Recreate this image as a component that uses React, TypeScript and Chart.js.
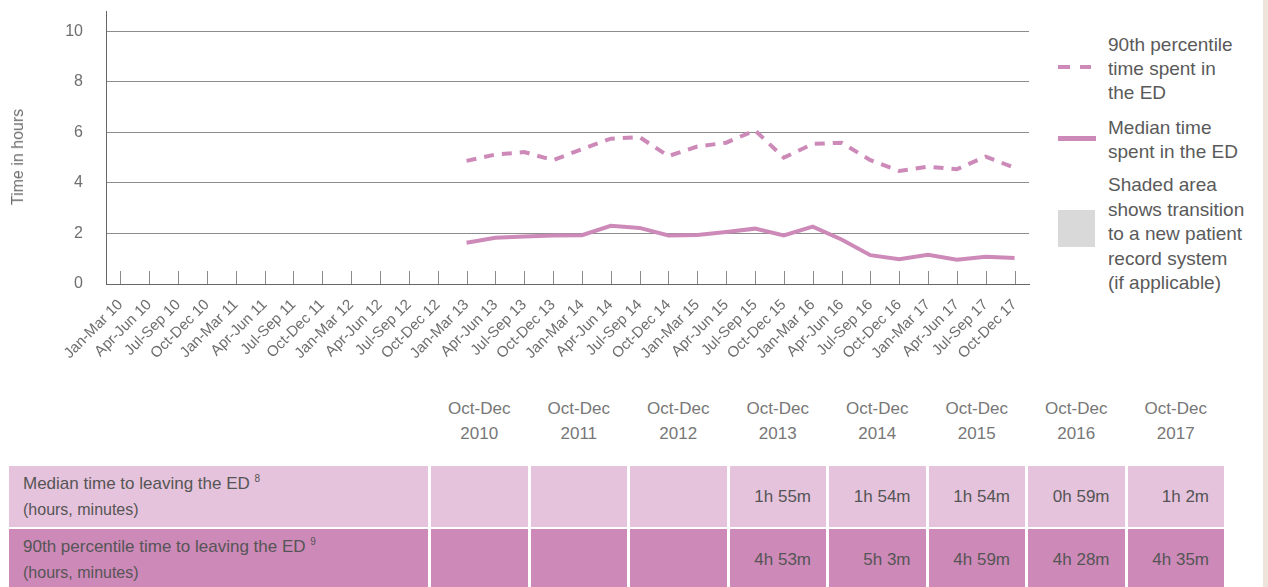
import React, { useEffect, useRef } from 'react';
import { Chart, registerables } from 'chart.js';

Chart.register(...registerables);

const categories = [
  'Jan-Mar 10', 'Apr-Jun 10', 'Jul-Sep 10', 'Oct-Dec 10',
  'Jan-Mar 11', 'Apr-Jun 11', 'Jul-Sep 11', 'Oct-Dec 11',
  'Jan-Mar 12', 'Apr-Jun 12', 'Jul-Sep 12', 'Oct-Dec 12',
  'Jan-Mar 13', 'Apr-Jun 13', 'Jul-Sep 13', 'Oct-Dec 13',
  'Jan-Mar 14', 'Apr-Jun 14', 'Jul-Sep 14', 'Oct-Dec 14',
  'Jan-Mar 15', 'Apr-Jun 15', 'Jul-Sep 15', 'Oct-Dec 15',
  'Jan-Mar 16', 'Apr-Jun 16', 'Jul-Sep 16', 'Oct-Dec 16',
  'Jan-Mar 17', 'Apr-Jun 17', 'Jul-Sep 17', 'Oct-Dec 17',
];

const medianHours = [
  null, null, null, null, null, null, null, null, null, null, null, null,
  1.63, 1.83, 1.88, 1.92, 1.93, 2.3, 2.22, 1.92,
  1.94, 2.06, 2.19, 1.92, 2.27, 1.76, 1.14, 0.98,
  1.16, 0.96, 1.08, 1.03,
];

const p90Hours = [
  null, null, null, null, null, null, null, null, null, null, null, null,
  4.87, 5.12, 5.22, 4.9, 5.33, 5.75, 5.81, 5.06,
  5.44, 5.59, 6.08, 5.0, 5.54, 5.59, 4.9, 4.47,
  4.64, 4.54, 5.04, 4.6,
];

const yTickValues = [0, 2, 4, 6, 8, 10];

const tableQuarters = ['Oct-Dec', 'Oct-Dec', 'Oct-Dec', 'Oct-Dec', 'Oct-Dec', 'Oct-Dec', 'Oct-Dec', 'Oct-Dec'];
const tableYears = ['2010', '2011', '2012', '2013', '2014', '2015', '2016', '2017'];
const medianTable = ['', '', '', '1h 55m', '1h 54m', '1h 54m', '0h 59m', '1h 2m'];
const p90Table = ['', '', '', '4h 53m', '5h 3m', '4h 59m', '4h 28m', '4h 35m'];

const LINE_COLOR = '#cd8ab9';
const FONT = '"Liberation Sans", Arial, sans-serif';
const TEXT = '#6e6e6e';

const innerTicks = {
  id: 'innerTicks',
  beforeDatasetsDraw(chart: any) {
    const xs = chart.scales.x;
    const { ctx, chartArea } = chart;
    ctx.save();
    ctx.strokeStyle = '#8a8a8a';
    ctx.lineWidth = 1;
    categories.forEach((_, i) => {
      const px = Math.round(xs.getPixelForValue(i)) + 0.5;
      ctx.beginPath();
      ctx.moveTo(px, chartArea.bottom - 13);
      ctx.lineTo(px, chartArea.bottom);
      ctx.stroke();
    });
    ctx.restore();
  },
};

function LineChart() {
  const ref = useRef<HTMLCanvasElement | null>(null);
  useEffect(() => {
    if (!ref.current) return;
    const chart = new Chart(ref.current, {
      type: 'line',
      data: {
        labels: categories,
        datasets: [
          {
            label: '90th percentile time spent in the ED',
            data: p90Hours,
            borderColor: LINE_COLOR,
            borderWidth: 4,
            borderDash: [10, 8],
            pointRadius: 0,
            tension: 0,
            fill: false,
          },
          {
            label: 'Median time spent in the ED',
            data: medianHours,
            borderColor: LINE_COLOR,
            borderWidth: 4,
            pointRadius: 0,
            tension: 0,
            fill: false,
          },
        ],
      },
      options: {
        animation: false,
        responsive: false,
        layout: { padding: { top: 11, right: 11, left: 0, bottom: 0 } },
        plugins: { legend: { display: false }, tooltip: { enabled: false } },
        scales: {
          x: {
            offset: true,
            grid: { display: false },
            border: { display: true, color: '#666', width: 1 },
            ticks: {
              autoSkip: false,
              minRotation: 45,
              maxRotation: 45,
              padding: 4,
              color: TEXT,
              font: { family: FONT, size: 15 },
            },
            afterFit: (s: any) => { s.height = 96; s.paddingLeft = 0; s.paddingRight = 0; },
          },
          y: {
            min: 0,
            max: 10.8,
            afterBuildTicks: (s: any) => { s.ticks = yTickValues.map((v) => ({ value: v })); },
            grid: {
              drawTicks: false,
              color: (c: any) => (c.tick && c.tick.value === 0 ? 'rgba(0,0,0,0)' : '#8c8c8c'),
            },
            border: { display: true, color: '#666', width: 1 },
            ticks: {
              padding: 23,
              color: TEXT,
              font: { family: FONT, size: 16 },
            },
            afterFit: (s: any) => { s.width = 106; s.paddingTop = 0; s.paddingBottom = 0; },
          },
        },
      },
      plugins: [innerTicks],
    });
    return () => chart.destroy();
  }, []);
  return <canvas ref={ref} width={1040} height={380} style={{ position: 'absolute', left: 0, top: 0 }} />;
}

export default function App() {
  const colLeft = (i: number) => 431 + i * 99.5;
  const colW = 96.5;
  return (
    <div style={{ position: 'fixed', left: 0, top: 0, width: 1268, height: 587, background: '#fff', overflow: 'hidden', fontFamily: FONT }}>
      <LineChart />
      <div style={{ position: 'absolute', left: 18, top: 157, transform: 'translate(-50%,-50%) rotate(-90deg)', whiteSpace: 'nowrap', fontSize: 16, color: TEXT }}>
        Time in hours
      </div>

      {/* legend */}
      <div style={{ position: 'absolute', left: 1058, top: 65, width: 12, height: 4, background: LINE_COLOR }} />
      <div style={{ position: 'absolute', left: 1080, top: 65, width: 11, height: 4, background: LINE_COLOR }} />
      <div style={{ position: 'absolute', left: 1058, top: 136, width: 38, height: 5, background: LINE_COLOR }} />
      <div style={{ position: 'absolute', left: 1058, top: 210, width: 37, height: 37, background: '#d9d9d9' }} />
      <div style={{ position: 'absolute', left: 1108, top: 33, fontSize: 19, lineHeight: '24px', color: '#5a5a5a' }}>
        90th percentile<br />time spent in<br />the ED
      </div>
      <div style={{ position: 'absolute', left: 1108, top: 116, fontSize: 19, lineHeight: '24px', color: '#5a5a5a' }}>
        Median time<br />spent in the ED
      </div>
      <div style={{ position: 'absolute', left: 1108, top: 173, fontSize: 19, lineHeight: '24.5px', color: '#5a5a5a', whiteSpace: 'nowrap' }}>
        Shaded area<br />shows transition<br />to a new patient<br />record system<br />(if applicable)
      </div>

      {/* table header */}
      {tableYears.map((y, i) => (
        <div key={'h' + i} style={{ position: 'absolute', left: colLeft(i), top: 396, width: colW, textAlign: 'center', fontSize: 17, lineHeight: '25px', color: '#777' }}>
          {tableQuarters[i]}<br />{y}
        </div>
      ))}

      {/* row 1 */}
      <div style={{ position: 'absolute', left: 9, top: 466, width: 419, height: 61, background: '#e6c3dc', display: 'flex', flexDirection: 'column', justifyContent: 'center', paddingLeft: 14, boxSizing: 'border-box', color: '#555' }}>
        <div style={{ fontSize: 17, lineHeight: '26px' }}>Median time to leaving the ED <sup style={{ fontSize: 10, verticalAlign: 'top', lineHeight: '16px' }}>8</sup></div>
        <div style={{ fontSize: 16, lineHeight: '26px' }}>(hours, minutes)</div>
      </div>
      {medianTable.map((v, i) => (
        <div key={'m' + i} style={{ position: 'absolute', left: colLeft(i), top: 466, width: colW, height: 61, background: '#e6c3dc', display: 'flex', alignItems: 'center', justifyContent: 'flex-end', paddingRight: 15, boxSizing: 'border-box', fontSize: 17, color: '#555' }}>
          {v}
        </div>
      ))}

      {/* row 2 */}
      <div style={{ position: 'absolute', left: 9, top: 529, width: 419, height: 61, background: '#cd89b8', display: 'flex', flexDirection: 'column', justifyContent: 'center', paddingLeft: 14, boxSizing: 'border-box', color: '#555' }}>
        <div style={{ fontSize: 17, lineHeight: '26px' }}>90th percentile time to leaving the ED <sup style={{ fontSize: 10, verticalAlign: 'top', lineHeight: '16px' }}>9</sup></div>
        <div style={{ fontSize: 16, lineHeight: '26px' }}>(hours, minutes)</div>
      </div>
      {p90Table.map((v, i) => (
        <div key={'p' + i} style={{ position: 'absolute', left: colLeft(i), top: 529, width: colW, height: 61, background: '#cd89b8', display: 'flex', alignItems: 'center', justifyContent: 'flex-end', paddingRight: 15, boxSizing: 'border-box', fontSize: 17, color: '#555' }}>
          {v}
        </div>
      ))}

      {/* right edge strip */}
      <div style={{ position: 'absolute', left: 1263, top: 0, width: 5, height: 587, background: '#efe4da' }} />
    </div>
  );
}
